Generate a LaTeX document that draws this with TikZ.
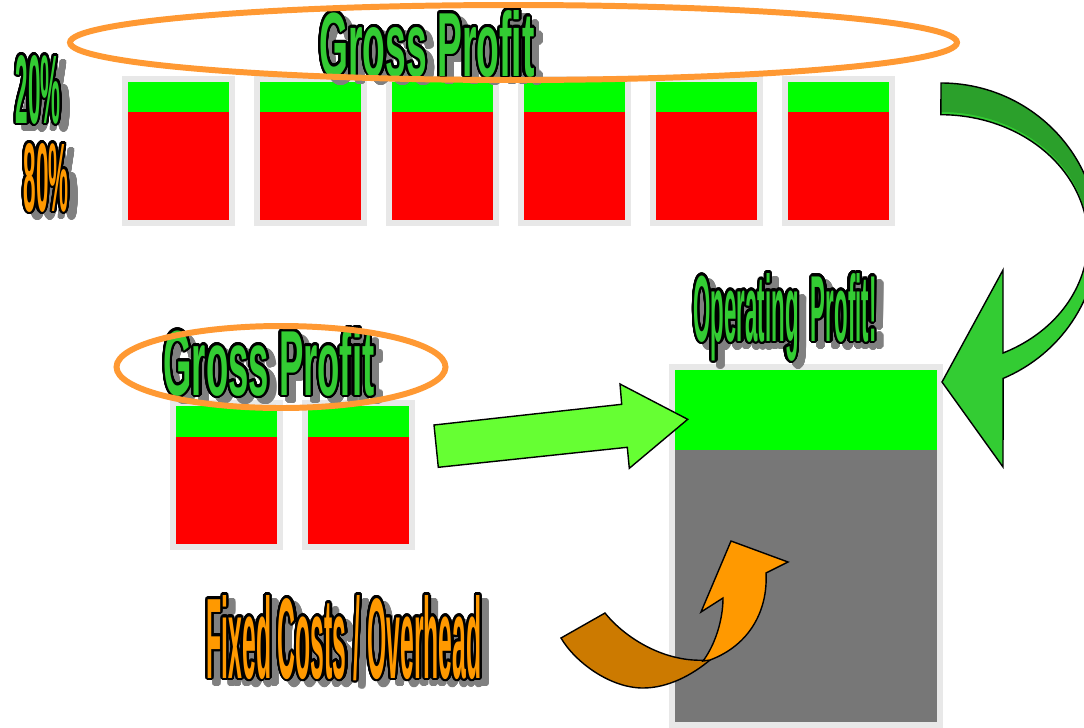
\documentclass[tikz,border=0pt]{standalone}
\usepackage{fontspec}
\setmainfont{Liberation Sans}
\usepackage{contour}
\contourlength{1.3pt}
\contournumber{32}

\definecolor{barframe}{HTML}{E8E8E8}
\definecolor{profitgreen}{HTML}{00FF00}
\definecolor{costred}{HTML}{FF0000}
\definecolor{overheadgray}{HTML}{777777}
\definecolor{ringorange}{HTML}{FF9933}
\definecolor{wordgreen}{HTML}{33CC33}
\definecolor{wordorange}{HTML}{FF9900}
\definecolor{shadegray}{HTML}{808080}
\definecolor{arrowlime}{HTML}{66FF33}
\definecolor{arrowdark}{HTML}{2BA02B}
\definecolor{arrowtail}{HTML}{CC7A00}

% outlined word: fill colour, width, height, text
\newcommand{\bigword}[4]{\textcolor{#1}{\contour{black}{\resizebox{#2}{#3}{\bfseries #4}}}}
% its grey shadow: width, height, text
\newcommand{\bigshade}[3]{\textcolor{shadegray}{\contour{shadegray}{\resizebox{#1}{#2}{\bfseries #3}}}}

\begin{document}
\begin{tikzpicture}[x=0.02cm,y=-0.02cm,
  word/.style={inner sep=0pt,anchor=base},
  ring/.style={draw=ringorange,line width=3.4pt},
  outline/.style={draw=black,line width=0.8pt,line join=miter}]

\useasboundingbox (0,0) rectangle (1084,727);
\clip (0,0) rectangle (1084,727);

% six bars at the top
\foreach \i in {0,...,5}{
  \fill[barframe] ({121.5+132*\i},76) rectangle ({234.5+132*\i},226);
  \fill[profitgreen] ({127.5+132*\i},82) rectangle ({228.5+132*\i},111.5);
  \fill[costred] ({127.5+132*\i},111.5) rectangle ({228.5+132*\i},220);
}

% two bars below
\foreach \x in {176,308}{
  \fill[barframe] (\x-6.5,400) rectangle (\x+107,549.5);
  \fill[profitgreen] (\x,406) rectangle (\x+101,437);
  \fill[costred] (\x,437) rectangle (\x+101,544);
}

% the big bar
\fill[barframe] (668.5,364) rectangle (943,730);
\fill[profitgreen] (675,370) rectangle (937,450);
\fill[overheadgray] (675,450) rectangle (937,722);

% words
\node[word] (gpTopShade) at (434,82) {\bigshade{4.3cm}{1.32cm}{Gross Profit}};
\node[word] (gpTop) at (427,76) {\bigword{wordgreen}{4.3cm}{1.32cm}{Gross Profit}};

\node[word] (pctTwentyShade) at (46,129) {\bigshade{0.9cm}{1.36cm}{20\%}};
\node[word] (pctTwenty) at (38,123) {\bigword{wordgreen}{0.9cm}{1.36cm}{20\%}};

\node[word] (pctEightyShade) at (54,217) {\bigshade{0.9cm}{1.36cm}{80\%}};
\node[word] (pctEighty) at (46,211) {\bigword{wordorange}{0.9cm}{1.36cm}{80\%}};

\node[word] (gpLowShade) at (276,401) {\bigshade{4.22cm}{1.34cm}{Gross Profit}};
\node[word] (gpLow) at (269,395) {\bigword{wordgreen}{4.22cm}{1.34cm}{Gross Profit}};

\node[word] (opProfitShade) at (792,347) {\bigshade{3.66cm}{1.36cm}{Operating~~Profit!}};
\node[word] (opProfit) at (785,341) {\bigword{wordgreen}{3.66cm}{1.36cm}{Operating~~Profit!}};

\node[word] (fixedCostsShade) at (351,684) {\bigshade{5.5cm}{1.66cm}{Fixed Costs / Overhead}};
\node[word] (fixedCosts) at (344,678) {\bigword{wordorange}{5.5cm}{1.66cm}{Fixed Costs / Overhead}};

% rings round gross profit
\draw[ring] (513.5,42.5) ellipse (443.5 and 37.5);
\draw[ring] (281,367) ellipse (164.5 and 41);

% straight arrow into the big bar
\draw[outline,fill=arrowlime] (434,425) -- (621.7,404.3) -- (620,384) -- (687.7,419.3)
  -- (629.3,468.3) -- (627.3,447.3) -- (438.3,467.3) -- cycle;

% curved green arrow on the right
\fill[wordgreen] (941,83) arc[start angle=-90,end angle=66.7,x radius=157,y radius=154]
  -- (1003,467) -- (942,382) -- (1003,270) -- (1003,353)
  arc[start angle=65,end angle=-90,x radius=147,y radius=125] -- cycle;
\fill[arrowdark] (941,83) arc[start angle=-90,end angle=0,x radius=157,y radius=154]
  -- (1088,237) arc[start angle=0,end angle=-90,x radius=147,y radius=125] -- cycle;
\draw[outline] (941,83) arc[start angle=-90,end angle=66.7,x radius=157,y radius=154]
  -- (1003,467) -- (942,382) -- (1003,270) -- (1003,353)
  arc[start angle=65,end angle=-90,x radius=147,y radius=125] -- cycle;

% curved orange arrow
\draw[outline,fill=arrowtail] (561,638) -- (605,613) .. controls (625,638) and (665,663) .. (707,660)
  -- (710,660) .. controls (692,675) and (668,688) .. (643,688)
  .. controls (610,688) and (575,662) .. cycle;
\draw[outline,fill=wordorange] (703,661) .. controls (715,645) and (723,620) .. (723,598)
  -- (701,612) -- (731,541) -- (788,562) -- (766,573)
  .. controls (768,610) and (750,645) .. (710,660) -- cycle;

\end{tikzpicture}
\end{document}
